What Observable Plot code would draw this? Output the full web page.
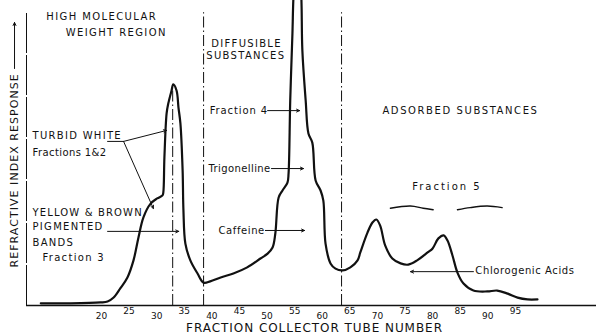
<!DOCTYPE html>
<html>
<head>
<meta charset="utf-8">
<script src="https://cdn.jsdelivr.net/npm/d3@7"></script>
<script src="https://cdn.jsdelivr.net/npm/@observablehq/plot@0.6"></script>
<style>
  html, body { margin: 0; padding: 0; background: #fff; }
</style>
</head>
<body>
<div id="chart"></div>
<script>
// Refractive index trace (tube number, response in arbitrary units)
const tubes = [9.0, 14.4, 19.8, 21.1, 22.2, 23.4, 24.7, 25.8, 26.7, 27.6, 28.9, 30.1, 31.05, 31.2, 31.4, 31.8, 32.1, 32.7, 33.0, 33.6, 33.95, 34.3, 34.7, 34.85, 35.2, 36.1, 37.4, 38.5, 39.7, 41.6, 43.9, 46.4, 48.8, 50.1, 51.0, 51.5, 52.1, 52.8, 53.7, 53.9, 54.2, 54.6, 54.8, 55.1, 55.9, 56.2, 56.4, 57.0, 57.5, 58.2, 58.8, 59.7, 60.2, 60.6, 61.5, 62.4, 63.7, 65.1, 66.4, 66.9, 68.2, 69.1, 69.8, 70.5, 71.4, 72.7, 74.2, 75.6, 77.2, 79.1, 80.0, 81.05, 82.0, 82.7, 83.6, 84.5, 85.6, 87.4, 89.9, 91.7, 93.6, 95.4, 97.2, 99.0];
const response = [0.7, 0.7, 1.0, 1.3, 2.6, 5.6, 9.2, 14.8, 22.3, 28.9, 33.4, 35.1, 36.1, 37.0, 48.5, 63.0, 66.2, 70.5, 72.5, 70.5, 64.9, 59.7, 44.3, 31.1, 20.3, 14.8, 10.5, 7.5, 7.9, 9.2, 10.5, 12.5, 15.4, 17.0, 19.0, 23.6, 35.4, 37.7, 40.3, 43.3, 67.2, 89.2, 101.6, 108, 108, 101.6, 83.6, 67.2, 56.4, 53.4, 41.0, 37.7, 34.4, 20.3, 13.8, 12.1, 11.5, 12.5, 14.8, 17.4, 23.9, 27.2, 28.2, 26.2, 19.7, 15.4, 13.8, 13.4, 14.8, 17.4, 18.7, 22.0, 23.0, 21.3, 16.4, 10.8, 7.2, 4.9, 4.6, 4.9, 3.9, 2.6, 2.0, 2.0];

// Region dividers (tube number, top of divider in response units)
const dividerTubes = [32.9, 38.5, 63.5];
const dividerTops = [70.5, 96, 96];

// x tick labels
const tickLabels = [20, 25, 30, 35, 40, 45, 50, 55, 60, 65, 70, 75, 80, 85, 90, 95];

// Region / band labels (uppercase lettering)
const capsText = ["HIGH MOLECULAR", "WEIGHT REGION", "DIFFUSIBLE", "SUBSTANCES", "ADSORBED SUBSTANCES", "TURBID WHITE", "YELLOW & BROWN", "PIGMENTED", "BANDS"];
const capsTube = [10.0, 13.5, 39.9, 39.0, 70.9, 7.5, 7.5, 7.5, 7.5];
const capsResp = [94.8, 89.5, 85.9, 82.0, 63.9, 55.7, 30.5, 25.9, 20.7];

// Fraction labels (mixed case lettering)
const mixedText = ["Fraction 4", "Trigonelline", "Caffeine", "Fractions 1&2", "Fraction 3", "Fraction 5", "Chlorogenic Acids"];
const mixedTube = [39.6, 39.4, 41.2, 7.5, 9.3, 76.3, 87.75];
const mixedResp = [63.9, 44.9, 24.6, 50.2, 15.7, 39.0, 11.5];

// Pointer arrows (from tube/response to tube/response)
const arrowFromTube = [50.1, 50.8, 49.7, 21.1, 87.4, 24.0, 24.0];
const arrowFromResp = [63.9, 44.9, 24.6, 24.3, 11.1, 53.8, 53.8];
const arrowToTube = [55.9, 56.6, 56.8, 34.0, 76.0, 31.8, 29.4];
const arrowToResp = [63.9, 44.9, 24.6, 24.3, 11.1, 57.4, 31.8];

// Turbid white underline
const underlineTube = [21.1, 24.0];
const underlineResp = [53.8, 53.8];

// Fraction 5 brace strokes
const brace1Tube = [72.35, 75.98, 78.3, 80.1];
const brace1Resp = [31.9, 32.6, 31.9, 31.4];
const brace2Tube = [84.5, 86.8, 89.9, 92.6];
const brace2Resp = [31.4, 32.1, 32.6, 32.1];

const xTitle = "FRACTION COLLECTOR TUBE NUMBER";
const yTitle = "REFRACTIVE INDEX RESPONSE";

// ---- build tables ----
const trace = tubes.map((t, i) => ({tube: t, resp: response[i]}));
const dividers = dividerTubes.map((t, i) => ({tube: t, top: dividerTops[i]}));
const capsLabels = capsText.map((s, i) => ({text: s, tube: capsTube[i], resp: capsResp[i]}));
const mixedLabels = mixedText.map((s, i) => ({text: s, tube: mixedTube[i], resp: mixedResp[i]}));
const arrows = arrowFromTube.map((t, i) => ({x1: t, y1: arrowFromResp[i], x2: arrowToTube[i], y2: arrowToResp[i]}));
const underline = underlineTube.map((t, i) => ({tube: t, resp: underlineResp[i]}));
const brace1 = brace1Tube.map((t, i) => ({tube: t, resp: brace1Resp[i]}));
const brace2 = brace2Tube.map((t, i) => ({tube: t, resp: brace2Resp[i]}));

const xDomain = [6.41, 109.7];
const ink = "#111";

const chart = Plot.plot({
  width: 596,
  height: 335,
  marginLeft: 26,
  marginRight: 0,
  marginTop: 0,
  marginBottom: 30,
  x: {domain: xDomain, axis: null},
  y: {domain: [0, 100], axis: null},
  style: {fontFamily: "'DejaVu Sans', sans-serif", background: "#fff", color: ink},
  marks: [
    // axes
    Plot.ruleY([0], {stroke: ink, strokeWidth: 1.4}),
    Plot.ruleX([xDomain[0]], {y1: 0, y2: 96, stroke: ink, strokeWidth: 1, strokeDasharray: "40,2"}),
    // region dividers
    Plot.ruleX(dividers, {x: "tube", y1: 0, y2: "top", stroke: ink, strokeWidth: 1, strokeDasharray: "11,3,1.5,3"}),
    // trace
    Plot.line(trace, {x: "tube", y: "resp", curve: "catmull-rom", stroke: ink, strokeWidth: 2.2, clip: true}),
    // annotations
    Plot.line(underline, {x: "tube", y: "resp", stroke: ink, strokeWidth: 1}),
    Plot.line(brace1, {x: "tube", y: "resp", curve: "catmull-rom", stroke: ink, strokeWidth: 1.4}),
    Plot.line(brace2, {x: "tube", y: "resp", curve: "catmull-rom", stroke: ink, strokeWidth: 1.4}),
    Plot.arrow(arrows, {x1: "x1", y1: "y1", x2: "x2", y2: "y2", stroke: ink, strokeWidth: 1, headLength: 5, headAngle: 50}),
    Plot.text(capsLabels, {x: "tube", y: "resp", text: "text", textAnchor: "start", fontSize: 10, fill: ink}),
    Plot.text(mixedLabels, {x: "tube", y: "resp", text: "text", textAnchor: "start", fontSize: 10, fill: ink}),
    // x tick labels (staggered as in the original lettering)
    Plot.text(tickLabels.filter(d => d % 10 === 0), {x: d => d, y: 0, text: d => String(d), dy: 11, fontSize: 9, fill: ink}),
    Plot.text(tickLabels.filter(d => d % 10 !== 0), {x: d => d, y: 0, text: d => String(d), dy: 6, fontSize: 9, fill: ink}),
    // axis titles
    Plot.text([xTitle], {frameAnchor: "bottom", lineAnchor: "middle", dx: 3, dy: 23, fontSize: 12, fill: ink}),
    Plot.text([yTitle], {x: 4.24, y: 44.3, rotate: -90, fontSize: 11, fill: ink}),
    Plot.arrow([{x1: 4.24, y1: 77.7, x2: 4.24, y2: 92.8}], {x1: "x1", y1: "y1", x2: "x2", y2: "y2", stroke: ink, strokeWidth: 1, headLength: 5, headAngle: 50})
  ]
});

// Hand-lettered look: wider letter spacing per label
const spacing = new Map([
  ["HIGH MOLECULAR", 1.4], ["WEIGHT REGION", 1.4], ["DIFFUSIBLE", 1.3], ["SUBSTANCES", 1.3],
  ["ADSORBED SUBSTANCES", 1.6], ["TURBID WHITE", 1.3], ["YELLOW & BROWN", 1.15], ["PIGMENTED", 1.3], ["BANDS", 1.3],
  ["Fraction 4", 0.9], ["Trigonelline", 0.4], ["Caffeine", 0.6], ["Fractions 1&2", 0.4], ["Fraction 3", 1.3],
  ["Fraction 5", 2.0], ["Chlorogenic Acids", 0.6], [xTitle, 0.95], [yTitle, 1.05]
]);
d3.select(chart).selectAll("text").each(function () {
  const s = spacing.get(this.textContent);
  if (s != null) this.style.letterSpacing = s + "px";
});

document.getElementById("chart").appendChild(chart);
</script>
</body>
</html>
